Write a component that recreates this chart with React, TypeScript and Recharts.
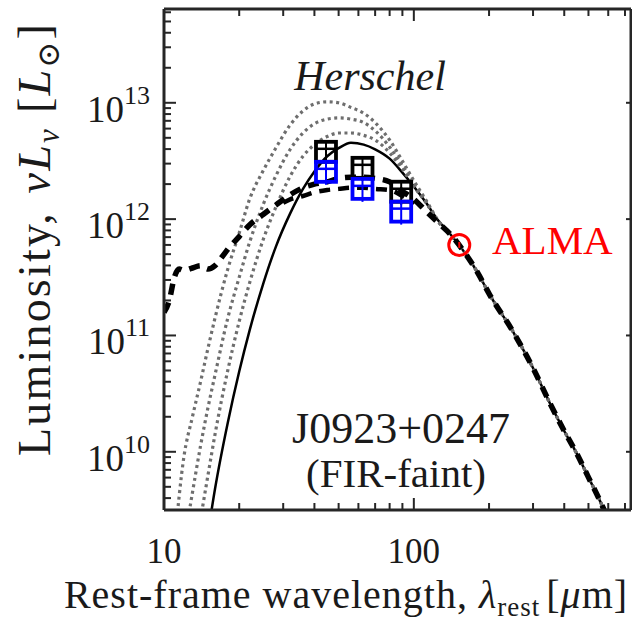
import React from "react";
import { ComposedChart, Line, Scatter, XAxis, YAxis } from "recharts";

// Rest-frame wavelength [um] and luminosity nuL_nu [L_sun] of each model curve.
// All models share the same Rayleigh-Jeans tail past ~130 um.
const tailWave = [140, 160, 180, 200, 250, 300, 350, 400, 450, 500, 550, 600, 650];
const tailLum = [7.41e11, 5.13e11, 3.47e11, 2.29e11, 1.07e11, 5.25e10, 2.63e10, 1.51e10, 9.55e9, 6.03e9, 3.98e9, 2.63e9, 1.78e9];

// best-fit greybody (solid)
const fitWave = [15, 16, 18, 20, 22, 25, 28, 32, 36, 40, 45, 50, 56, 63, 70, 80, 90, 100, 112, 125];
const fitLum = [2.0e9, 4.79e9, 1.78e10, 4.9e10, 1.1e11, 2.82e11, 5.75e11, 1.12e12, 1.82e12, 2.57e12, 3.47e12, 4.07e12, 4.53e12, 4.37e12, 3.98e12, 3.31e12, 2.51e12, 1.91e12, 1.38e12, 9.77e11];

// warmer greybodies (dotted)
const warm1Wave = [11, 12, 13, 14, 15, 16, 18, 20, 22, 25, 28, 32, 36, 40, 45, 50, 56, 63, 70, 80, 90, 100, 112, 125];
const warm1Lum = [1.58e9, 8.91e9, 2.0e10, 3.98e10, 7.76e10, 1.41e11, 3.72e11, 7.59e11, 1.48e12, 2.63e12, 4.07e12, 6.46e12, 8.51e12, 9.77e12, 1.02e13, 1.0e13, 9.12e12, 8.13e12, 6.76e12, 4.79e12, 3.16e12, 2.14e12, 1.45e12, 9.77e11];
const warm2Wave = [12, 13, 14, 15, 16, 18, 20, 22, 25, 28, 32, 36, 40, 45, 50, 56, 63, 70, 80, 90, 100, 112, 125];
const warm2Lum = [1.58e9, 4.47e9, 1.12e10, 2.4e10, 4.57e10, 1.41e11, 3.16e11, 6.31e11, 1.35e12, 2.34e12, 3.98e12, 5.5e12, 6.61e12, 7.24e12, 7.41e12, 7.24e12, 6.76e12, 5.75e12, 4.17e12, 2.88e12, 2.0e12, 1.41e12, 9.55e11];
const warm3Wave = [14, 15, 16, 18, 20, 22, 25, 28, 32, 36, 40, 45, 50, 56, 63, 70, 80, 90, 100, 112, 125];
const warm3Lum = [2.63e9, 6.31e9, 1.41e10, 5.01e10, 1.32e11, 2.82e11, 6.76e11, 1.26e12, 2.34e12, 3.47e12, 4.37e12, 5.13e12, 5.5e12, 5.5e12, 5.25e12, 4.79e12, 3.72e12, 2.69e12, 1.91e12, 1.38e12, 9.55e11];

// starburst templates (dashed); the second one only departs from the first near the peak
const tplWave = [10, 10.5, 11, 11.5, 12, 13, 14, 15, 16, 17, 18, 20, 22, 25, 28, 32, 36, 40, 45, 50, 56, 63, 70, 80, 90, 100, 112, 125];
const tplLum = [1.58e11, 2.0e11, 3.16e11, 3.72e11, 3.63e11, 3.8e11, 3.98e11, 3.72e11, 3.98e11, 4.68e11, 5.5e11, 7.08e11, 8.91e11, 1.1e12, 1.32e12, 1.62e12, 1.86e12, 2.0e12, 2.09e12, 2.24e12, 2.29e12, 2.29e12, 2.24e12, 2.09e12, 1.74e12, 1.48e12, 1.17e12, 9.33e11];
const tpl2Wave = [30, 32, 36, 40, 45, 50, 56, 63, 70, 80, 90, 100];
const tpl2Lum = [1.38e12, 1.48e12, 1.58e12, 1.7e12, 1.78e12, 1.82e12, 1.86e12, 1.86e12, 1.82e12, 1.78e12, 1.58e12, 1.35e12];

// photometry
const herschelWave = [44.5, 62.3, 89.0];
const herschelLumBlack = [3.79e12, 2.76e12, 1.72e12];
const herschelLumBlue = [2.55e12, 1.82e12, 1.16e12];
const almaWave = [152];
const almaLum = [6.0e11];

// axes
const xDomain = [10, 740];
const yDomain = [3.16e9, 6.4e13];
const xTicks = [10, 20, 30, 40, 50, 60, 70, 80, 90, 100, 200, 300, 400, 500, 600, 700];
const xLabelTicks = [10, 100];
const yDecades = [1e9, 1e10, 1e11, 1e12, 1e13];
const yMantissas = [1, 2, 3, 4, 5, 6, 7, 8, 9];
const yTicks = yDecades
  .flatMap((d) => yMantissas.map((m) => m * d))
  .filter((v) => v >= yDomain[0] && v <= yDomain[1]);

const pts = (w: number[], l: number[]) => w.map((x, i) => ({ x, y: l[i] }));
const withTail = (w: number[], l: number[]) => pts([...w, ...tailWave], [...l, ...tailLum]);

const AXIS = "#262626";
const INK = "#1a1a1a";
const FONT = '"Liberation Serif", "DejaVu Serif", serif';
const serif = { fontFamily: FONT };

const isMajorY = (v: number) => Math.abs(Math.log10(v) - Math.round(Math.log10(v))) < 1e-6;

const BottomTick = ({ x, y, payload }: any) => {
  const major = xLabelTicks.includes(payload.value);
  return (
    <g>
      <line x1={x} x2={x} y1={y} y2={y - (major ? 12 : 7)} stroke={AXIS} strokeWidth={2} />
      {major && (
        <text x={x} y={y + 53} textAnchor="middle" fontSize={35} style={serif} fill={INK}>
          {payload.value}
        </text>
      )}
    </g>
  );
};

const TopTick = ({ x, y, payload }: any) => {
  const major = xLabelTicks.includes(payload.value);
  return <line x1={x} x2={x} y1={y} y2={y + (major ? 12 : 7)} stroke={AXIS} strokeWidth={2} />;
};

const LeftTick = ({ x, y, payload }: any) => {
  const major = isMajorY(payload.value);
  const exp = Math.round(Math.log10(payload.value));
  return (
    <g>
      <line x1={x} x2={x + (major ? 12 : 7)} y1={y} y2={y} stroke={AXIS} strokeWidth={2} />
      {major && (
        <text x={x - 14} y={y + 19} textAnchor="end" fontSize={37} style={serif} fill={INK}>
          10
          <tspan dy={-18} fontSize={26}>
            {exp}
          </tspan>
        </text>
      )}
    </g>
  );
};

const RightTick = ({ x, y, payload }: any) =>
  isMajorY(payload.value) ? <line x1={x} x2={x - 5} y1={y} y2={y} stroke={AXIS} strokeWidth={2} /> : null;

const SquareMark = (color: string) => (props: any) => {
  const { cx, cy } = props;
  const s = 10;
  return (
    <g stroke={color} strokeWidth={3.8} fill="none">
      <rect x={cx - s} y={cy - s} width={2 * s} height={2 * s} />
      <line x1={cx} x2={cx} y1={cy - s} y2={cy + s + 3} strokeWidth={2} />
      <line x1={cx - s} x2={cx + s} y1={cy - 3} y2={cy - 3} strokeWidth={2.5} />
    </g>
  );
};

const AlmaMark = (props: any) => {
  const { cx, cy } = props;
  return (
    <g stroke="#ff0000" fill="none">
      <circle cx={cx} cy={cy} r={10.5} strokeWidth={3} />
      <line x1={cx} x2={cx} y1={cy - 3} y2={cy + 3} strokeWidth={2} />
    </g>
  );
};

const W = 632;
const H = 623;

export default function App() {
  const dotted = { stroke: "#6e6e6e", strokeWidth: 3.2, strokeDasharray: "3 3.5", dot: false, isAnimationActive: false };
  return (
    <div style={{ position: "absolute", left: 0, top: 0, width: W, height: H, background: "#fff" }}>
      <ComposedChart width={W} height={H} margin={{ top: 8, right: 0, bottom: 83, left: 0 }}>
        <XAxis
          dataKey="x"
          type="number"
          scale="log"
          domain={xDomain}
          allowDataOverflow
          ticks={xTicks}
          tick={<BottomTick />}
          tickSize={0}
          tickMargin={0}
          height={30}
          interval={0}
          axisLine={{ stroke: AXIS, strokeWidth: 3 }}
        />
        <XAxis
          xAxisId="top"
          orientation="top"
          dataKey="x"
          type="number"
          scale="log"
          domain={xDomain}
          allowDataOverflow
          ticks={xTicks}
          tick={<TopTick />}
          tickSize={0}
          tickMargin={0}
          height={1}
          interval={0}
          axisLine={{ stroke: AXIS, strokeWidth: 3 }}
        />
        <YAxis
          type="number"
          scale="log"
          domain={yDomain}
          allowDataOverflow
          ticks={yTicks}
          tick={<LeftTick />}
          tickSize={0}
          tickMargin={0}
          width={164}
          interval={0}
          axisLine={{ stroke: AXIS, strokeWidth: 3 }}
        />
        <YAxis
          yAxisId="right"
          orientation="right"
          type="number"
          scale="log"
          domain={yDomain}
          allowDataOverflow
          ticks={yTicks}
          tick={<RightTick />}
          tickSize={0}
          tickMargin={0}
          width={1}
          interval={0}
          axisLine={{ stroke: AXIS, strokeWidth: 3 }}
        />

        <Line data={withTail(fitWave, fitLum)} dataKey="y" type="monotone" stroke="#000" strokeWidth={2.5} dot={false} isAnimationActive={false} />
        <Line data={withTail(warm1Wave, warm1Lum)} dataKey="y" type="monotone" {...dotted} />
        <Line data={withTail(warm2Wave, warm2Lum)} dataKey="y" type="monotone" {...dotted} />
        <Line data={withTail(warm3Wave, warm3Lum)} dataKey="y" type="monotone" {...dotted} />
        <Line data={pts(tpl2Wave, tpl2Lum)} dataKey="y" type="monotone" stroke="#000" strokeWidth={4.5} strokeDasharray="11 8" dot={false} isAnimationActive={false} />
        <Line data={withTail(tplWave, tplLum)} dataKey="y" type="monotone" stroke="#000" strokeWidth={5.5} strokeDasharray="11 8" dot={false} isAnimationActive={false} />

        <Scatter data={pts(herschelWave, herschelLumBlack)} dataKey="y" shape={SquareMark("#000")} isAnimationActive={false} />
        <Scatter data={pts(herschelWave, herschelLumBlue)} dataKey="y" shape={SquareMark("#0000ff")} isAnimationActive={false} />
        <Scatter data={pts(almaWave, almaLum)} dataKey="y" shape={AlmaMark} isAnimationActive={false} />
      </ComposedChart>

      <svg width={W} height={H} style={{ position: "absolute", left: 0, top: 0, pointerEvents: "none", ...serif }}>
        <text x={370} y={90} textAnchor="middle" fontSize={42} fontStyle="italic" fill={INK}>
          Herschel
        </text>
        <text x={492} y={254} fontSize={41} fill="#ff0000">
          ALMA
        </text>
        <text x={401} y={443} textAnchor="middle" fontSize={44} fill={INK}>
          J0923+0247
        </text>
        <text x={396} y={487} textAnchor="middle" fontSize={41} fill={INK}>
          (FIR-faint)
        </text>
        <text x={346} y={608} textAnchor="middle" fontSize={40} letterSpacing={1} fill={INK}>
          Rest-frame wavelength,{" "}
          <tspan fontStyle="italic">λ</tspan>
          <tspan fontSize={27} dy={8}>rest</tspan>
          <tspan dy={-8} dx={6}>[</tspan>
          <tspan fontStyle="italic">μ</tspan>m]
        </text>
        <text transform="translate(50, 239) rotate(-90)" textAnchor="middle" fontSize={46} letterSpacing={2.2} fill={INK}>
          Luminosity,{" "}
          <tspan fontStyle="italic" dx={4}>νL</tspan>
          <tspan fontStyle="italic" fontSize={31} dy={9}>ν</tspan>
          <tspan dy={-9} dx={14}>[</tspan>
          <tspan fontStyle="italic">L</tspan>
          <tspan fontSize={31} dy={9}>⊙</tspan>
          <tspan dy={-9}>]</tspan>
        </text>
      </svg>
    </div>
  );
}
